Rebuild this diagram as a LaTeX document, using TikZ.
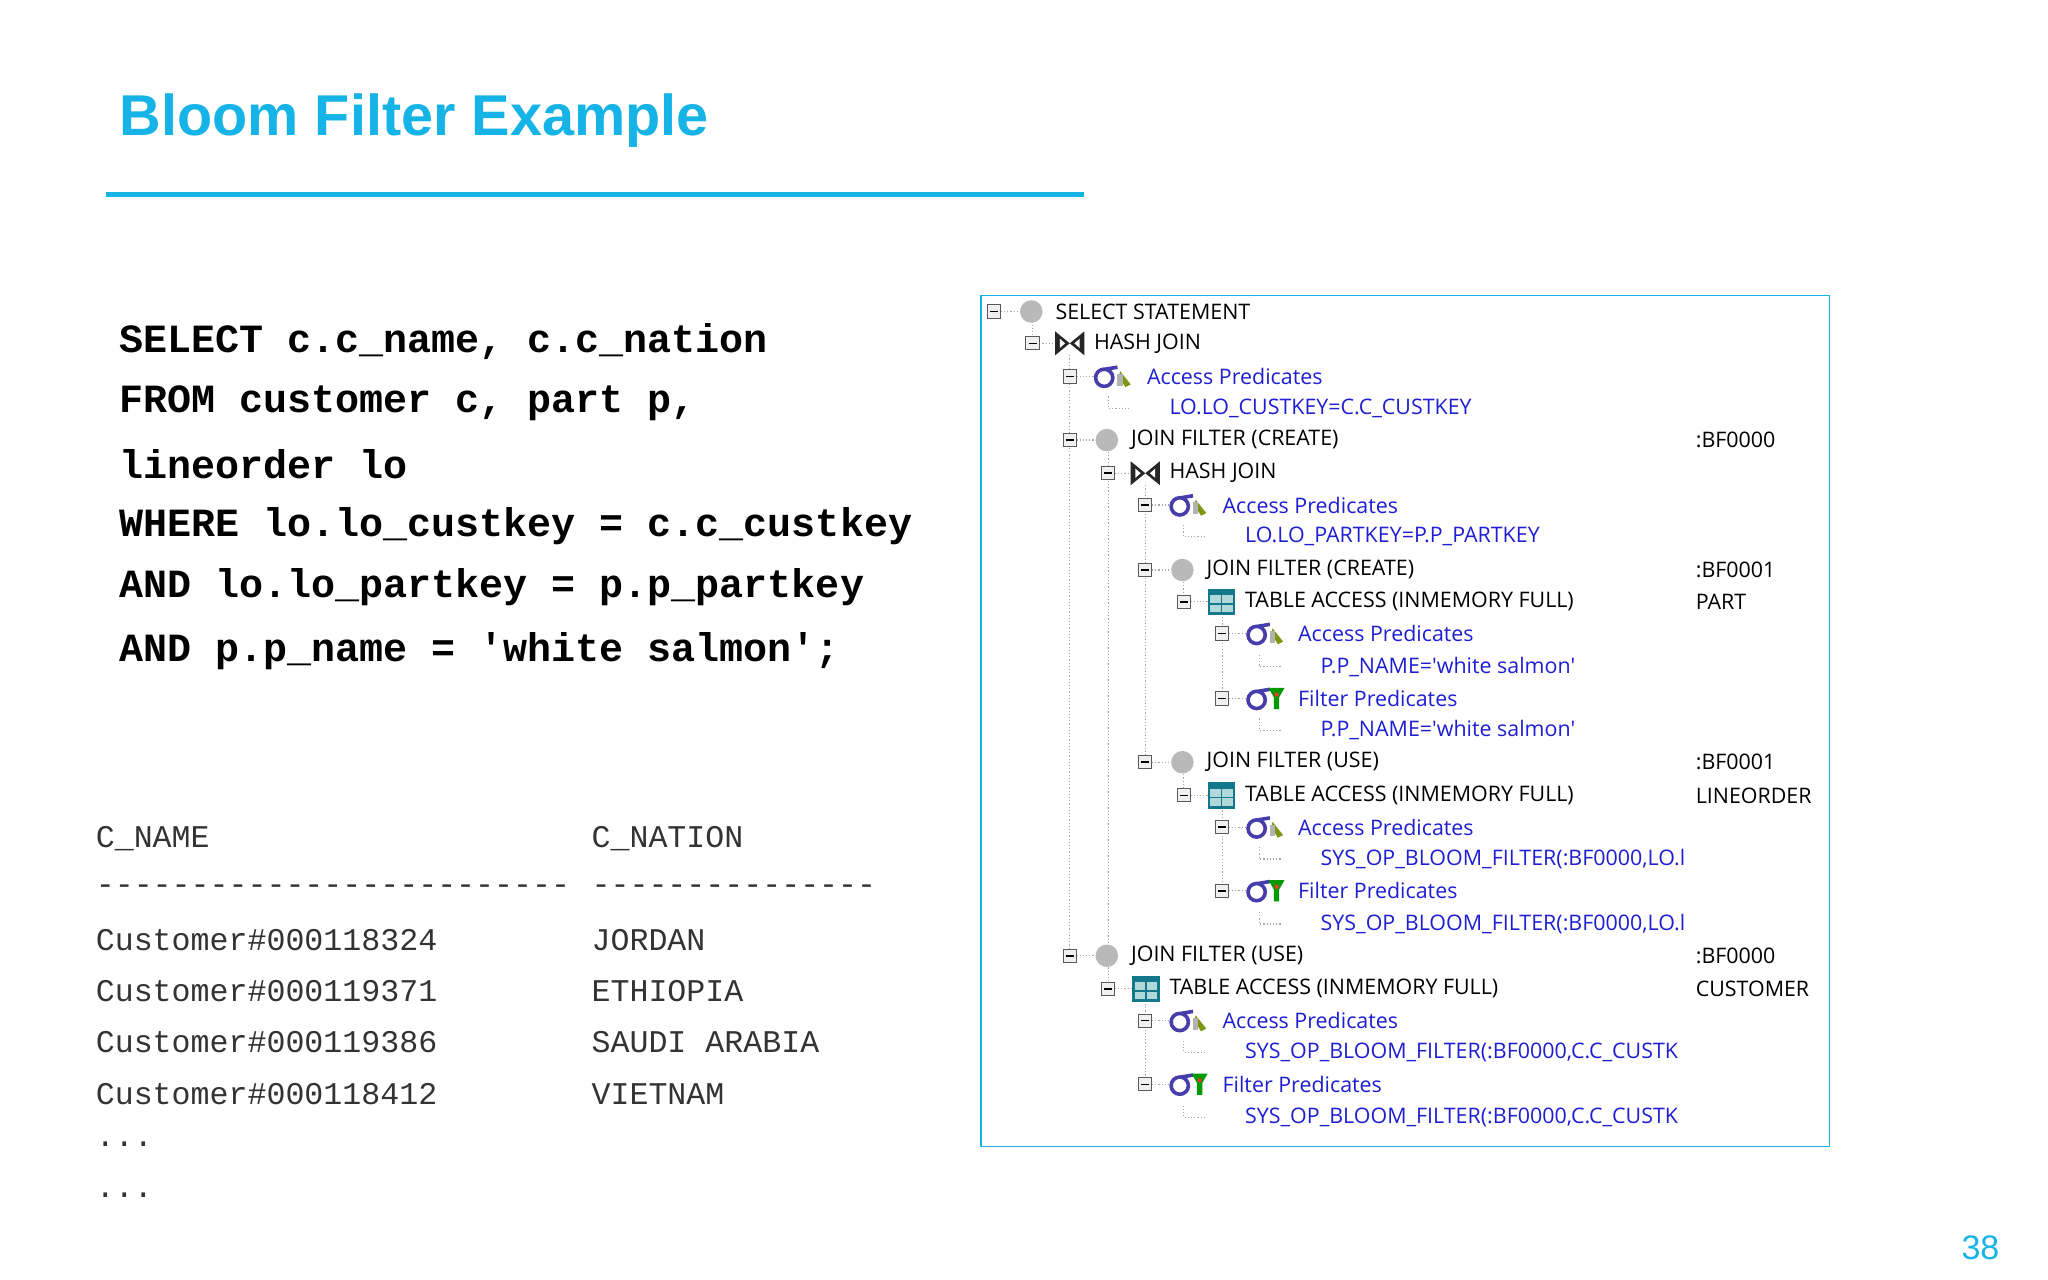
\documentclass[tikz,border=0pt]{standalone}
\usepackage{fontspec}
\setmainfont{Liberation Sans}
\newfontfamily\treefont{Open Sans}
\newfontfamily\codefont{Liberation Mono}
\definecolor{ttl}{RGB}{22,180,230}
\definecolor{pblue}{RGB}{30,30,210}
\definecolor{sig}{RGB}{70,60,170}
\definecolor{tbl}{RGB}{20,120,140}
\begin{document}
\begin{tikzpicture}[x=0.6625pt,y=-0.6625pt,
  treetxt/.style={anchor=west,inner sep=0,font=\treefont\fontsize{10.7}{12}\selectfont},
  codetxt/.style={anchor=west,inner sep=0,font=\codefont\bfseries\fontsize{20}{24}\selectfont},
  restxt/.style={anchor=west,inner sep=0,font=\codefont\fontsize{15.8}{18}\selectfont,text=black!80},
  dots/.style={gray!70,densely dotted,line width=0.6pt}]
\useasboundingbox (0,0) rectangle (1545,965);
\node[anchor=west,inner sep=0,text=ttl,font=\bfseries\fontsize{28.8}{34}\selectfont] (title) at (90,91) {Bloom Filter Example};
\draw[ttl,line width=2.6pt] (80,147) coordinate (l1) -- (818,147) coordinate (l2);
\node[anchor=center,text=ttl,font=\fontsize{17}{20}\selectfont] (pg) at (1494,941) {38};
% SQL
\node[codetxt] (q1) at (90,258) {SELECT c.c\_name, c.c\_nation};
\node[codetxt] (q2) at (90,304) {FROM customer c, part p,};
\node[codetxt] (q3) at (90,350) {lineorder lo};
\node[codetxt] (q4) at (90,397) {WHERE lo.lo\_custkey = c.c\_custkey};
\node[codetxt] (q5) at (90,443) {AND lo.lo\_partkey = p.p\_partkey};
\node[codetxt] (q6) at (90,491) {AND p.p\_name = 'white salmon';};
% results
\node[restxt] (r1) at (72,633) {C\_NAME};
\node[restxt] (r1b) at (446,633) {C\_NATION};
\node[restxt] (r2) at (72,671) {-------------------------};
\node[restxt] (r2b) at (446,671) {---------------};
\node[restxt] (r3) at (72,709) {Customer\#000118324};
\node[restxt] (r3b) at (446,709) {JORDAN};
\node[restxt] (r4) at (72,748) {Customer\#000119371};
\node[restxt] (r4b) at (446,748) {ETHIOPIA};
\node[restxt] (r5) at (72,786) {Customer\#000119386};
\node[restxt] (r5b) at (446,786) {SAUDI ARABIA};
\node[restxt] (r6) at (72,825) {Customer\#000118412};
\node[restxt] (r6b) at (446,825) {VIETNAM};
\node[restxt] (r7) at (72,863) {...};
\node[restxt] (r8) at (72,902) {...};
% panel
\draw[ttl,line width=0.8pt] (740,223) rectangle (1380,865);
% helpers
\newcommand\bx[2]{\draw[dots] (#1+5,#2)--(#1+18,#2);
  \draw[gray!70!black,fill=gray!12,line width=0.5pt] (#1-5,#2-5) rectangle (#1+5,#2+5);
  \draw[black,line width=0.8pt] (#1-3,#2)--(#1+3,#2);}
\newcommand\icirc[2]{\fill[gray!55] (#1+28,#2) circle (8.5);}
\newcommand\ibow[2]{\fill[black!85] (#1+17,#2-9)--(#1+39,#2+9)--(#1+39,#2-9)--(#1+17,#2+9)--cycle;
  \fill[white] (#1+20.5,#2-3.5)--(#1+24.5,#2)--(#1+20.5,#2+3.5)--cycle;
  \fill[white] (#1+35.5,#2-3.5)--(#1+31.5,#2)--(#1+35.5,#2+3.5)--cycle;}
\newcommand\isig[2]{\draw[sig,line width=1.8pt] (#1+26,#2+1) circle (6.5);
  \draw[sig,line width=1.8pt] (#1+27,#2-5.5)--(#1+36,#2-7);}
\newcommand\iacc[2]{\fill[olive!70!green] (#1+38,#2-4)--(#1+46,#2+6)--(#1+42,#2+8)--(#1+37,#2)--cycle;
  \fill[gray!60] (#1+36,#2-2) rectangle (#1+40,#2+7);}
\newcommand\ifil[2]{\fill[green!60!black] (#1+35,#2-8)--(#1+47,#2-8)--(#1+43,#2-1)--(#1+43,#2+8)--(#1+39,#2+8)--(#1+39,#2-1)--cycle;
  \fill[red!80] (#1+41,#2-3) circle (1.6);}
\newcommand\itbl[2]{\fill[tbl] (#1+18,#2-10) rectangle (#1+39,#2+10);
  \fill[teal!30] (#1+20,#2-5) rectangle (#1+37,#2+8);
  \draw[tbl,line width=0.8pt] (#1+20,#2+1.5)--(#1+37,#2+1.5) (#1+28.5,#2-5)--(#1+28.5,#2+8);}
\newcommand\leaf[2]{\draw[dots] (#1,#2-9)--(#1,#2)--(#1+16,#2);}
% verticals (x of children boxes)
\draw[dots] (779,240)--(779,259);
\draw[dots] (807,268)--(807,721);
\draw[dots] (836,341)--(836,746);
\draw[dots] (864,366)--(864,575);
\draw[dots] (893,439)--(893,454);
\draw[dots] (922,463)--(922,527);
\draw[dots] (893,584)--(893,600);
\draw[dots] (922,609)--(922,672);
\draw[dots] (864,755)--(864,818);
% rows
\bx{750}{235}\icirc{750}{235}\node[treetxt] (t0) at (796,235) {SELECT STATEMENT};
\bx{779}{259}\ibow{779}{259}\node[treetxt] (t1) at (825,259) {HASH JOIN};
\bx{807}{284}\isig{807}{284}\iacc{807}{284}\node[treetxt,text=pblue] (t2) at (865,284) {Access Predicates};
\leaf{836}{308}\node[treetxt,text=pblue] (t3) at (882,308) {LO.LO\_CUSTKEY=C.C\_CUSTKEY};
\bx{807}{332}\icirc{807}{332}\node[treetxt] (t4) at (853,332) {JOIN FILTER (CREATE)};
\node[treetxt] (t4b) at (1279,332) {:BF0000};
\bx{836}{357}\ibow{836}{357}\node[treetxt] (t5) at (882,357) {HASH JOIN};
\bx{864}{381}\isig{864}{381}\iacc{864}{381}\node[treetxt,text=pblue] (t6) at (922,381) {Access Predicates};
\leaf{893}{405}\node[treetxt,text=pblue] (t7) at (939,405) {LO.LO\_PARTKEY=P.P\_PARTKEY};
\bx{864}{430}\icirc{864}{430}\node[treetxt] (t8) at (910,430) {JOIN FILTER (CREATE)};
\node[treetxt] (t8b) at (1279,430) {:BF0001};
\bx{893}{454}\itbl{893}{454}\node[treetxt] (t9) at (939,454) {TABLE ACCESS (INMEMORY FULL)};
\node[treetxt] (t9b) at (1279,454) {PART};
\bx{922}{478}\isig{922}{478}\iacc{922}{478}\node[treetxt,text=pblue] (t10) at (979,478) {Access Predicates};
\leaf{950}{503}\node[treetxt,text=pblue] (t11) at (996,503) {P.P\_NAME='white salmon'};
\bx{922}{527}\isig{922}{527}\ifil{922}{527}\node[treetxt,text=pblue] (t12) at (979,527) {Filter Predicates};
\leaf{950}{551}\node[treetxt,text=pblue] (t13) at (996,551) {P.P\_NAME='white salmon'};
\bx{864}{575}\icirc{864}{575}\node[treetxt] (t14) at (910,575) {JOIN FILTER (USE)};
\node[treetxt] (t14b) at (1279,575) {:BF0001};
\bx{893}{600}\itbl{893}{600}\node[treetxt] (t15) at (939,600) {TABLE ACCESS (INMEMORY FULL)};
\node[treetxt] (t15b) at (1279,600) {LINEORDER};
\bx{922}{624}\isig{922}{624}\iacc{922}{624}\node[treetxt,text=pblue] (t16) at (979,624) {Access Predicates};
\leaf{950}{648}\node[treetxt,text=pblue] (t17) at (996,648) {SYS\_OP\_BLOOM\_FILTER(:BF0000,LO.l};
\bx{922}{672}\isig{922}{672}\ifil{922}{672}\node[treetxt,text=pblue] (t18) at (979,672) {Filter Predicates};
\leaf{950}{697}\node[treetxt,text=pblue] (t19) at (996,697) {SYS\_OP\_BLOOM\_FILTER(:BF0000,LO.l};
\bx{807}{721}\icirc{807}{721}\node[treetxt] (t20) at (853,721) {JOIN FILTER (USE)};
\node[treetxt] (t20b) at (1279,721) {:BF0000};
\bx{836}{746}\itbl{836}{746}\node[treetxt] (t21) at (882,746) {TABLE ACCESS (INMEMORY FULL)};
\node[treetxt] (t21b) at (1279,746) {CUSTOMER};
\bx{864}{770}\isig{864}{770}\iacc{864}{770}\node[treetxt,text=pblue] (t22) at (922,770) {Access Predicates};
\leaf{893}{794}\node[treetxt,text=pblue] (t23) at (939,794) {SYS\_OP\_BLOOM\_FILTER(:BF0000,C.C\_CUSTK};
\bx{864}{818}\isig{864}{818}\ifil{864}{818}\node[treetxt,text=pblue] (t24) at (922,818) {Filter Predicates};
\leaf{893}{843}\node[treetxt,text=pblue] (t25) at (939,843) {SYS\_OP\_BLOOM\_FILTER(:BF0000,C.C\_CUSTK};
\end{tikzpicture}
\end{document}
